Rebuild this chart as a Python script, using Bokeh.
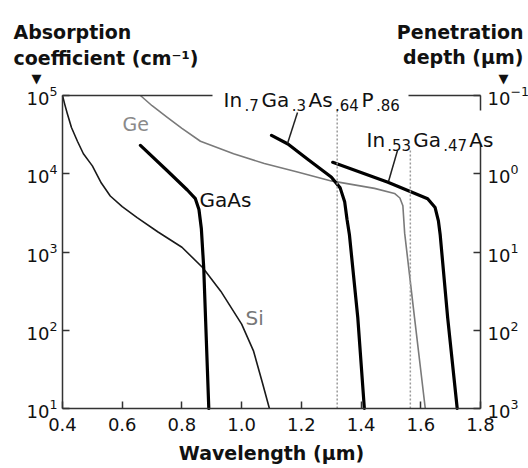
from bokeh.plotting import figure
from bokeh.models import (Range1d, LogScale, LogAxis, FixedTicker, PrintfTickFormatter,
                          Label, Arrow)
from bokeh.embed import file_html
from bokeh.resources import INLINE

# ---------------- data ----------------
si_wavelength = [0.40, 0.408, 0.416, 0.43, 0.45, 0.47, 0.50, 0.53, 0.56, 0.60, 0.65, 0.72, 0.80, 0.87, 0.93, 1.00, 1.04, 1.07, 1.093]
si_alpha = [1e5, 7.6e4, 5.9e4, 3.9e4, 2.6e4, 1.8e4, 1.26e4, 7.6e3, 5.2e3, 3.8e3, 2.75e3, 1.8e3, 1.15e3, 630, 316, 120, 54, 21, 10]

ge_wavelength = [0.661, 0.70, 0.752, 0.80, 0.862, 0.973, 1.076, 1.187, 1.30, 1.445, 1.512, 1.530, 1.540, 1.546, 1.579, 1.615]
ge_alpha = [1e5, 7.4e4, 5.2e4, 3.8e4, 2.6e4, 1.8e4, 1.35e4, 1.05e4, 8.1e3, 6.5e3, 5.6e3, 4.9e3, 3.9e3, 1.74e3, 145, 10]

gaas_wavelength = [0.661, 0.75, 0.818, 0.845, 0.857, 0.865, 0.873, 0.890]
gaas_alpha = [2.3e4, 1.1e4, 6.2e3, 4.8e3, 3.5e3, 2.0e3, 630, 10]

ingaasp_wavelength = [1.10, 1.155, 1.219, 1.30, 1.33, 1.345, 1.353, 1.361, 1.389, 1.411]
ingaasp_alpha = [3.1e4, 2.4e4, 1.55e4, 9.1e3, 6.6e3, 4.4e3, 2.6e3, 1.66e3, 145, 10]

ingaas_wavelength = [1.305, 1.49, 1.623, 1.648, 1.659, 1.665, 1.69, 1.722]
ingaas_alpha = [1.4e4, 7.8e3, 4.8e3, 3.7e3, 2.5e3, 1.66e3, 145, 10]

window_wavelength = [1.32, 1.565]
window_top_alpha = [6.5e4, 2.0e4]

x_ticks = [0.4, 0.6, 0.8, 1.0, 1.2, 1.4, 1.6, 1.8]
alpha_ticks = [1e1, 1e2, 1e3, 1e4, 1e5]
depth_ticks = [1e-1, 1e0, 1e1, 1e2, 1e3]

# ---------------- layout: the frame fills the canvas, axes sit at fixed places ----------------
W, H = 528, 468
FL, FR, FT, FB = 62, 480, 95, 408          # pixel box of the drawn axes
X0, X1 = 0.4, 1.8
LOG0, LOG1 = 1.0, 5.0
KX = (X1 - X0) / (FR - FL)                 # µm per pixel
DEC = (FB - FT) / (LOG1 - LOG0)            # pixels per decade


def dx(px):
    return X0 + (px - FL) * KX


def dy(py):
    return 10 ** (LOG0 + (FB - py) / DEC)


FONT = "DejaVu Sans"
INK = "#111111"
FRAME = "#333333"

p = figure(width=W, height=H, x_range=Range1d(dx(0), dx(W)), y_range=Range1d(dy(H), dy(0)),
           y_axis_type="log", output_backend="svg", toolbar_location=None,
           min_border=0, min_border_left=0, min_border_right=0, min_border_top=0,
           min_border_bottom=0)
p.outline_line_color = None
p.grid.visible = False
p.background_fill_color = "white"
p.border_fill_color = "white"

# penetration depth (µm) = 1e4 / alpha (cm^-1)
p.extra_y_ranges = {"depth": Range1d(start=1e4 / dy(H), end=1e4 / dy(0))}
p.extra_y_scales = {"depth": LogScale()}
raxis = LogAxis(y_range_name="depth", fixed_location=X1, bounds=(depth_ticks[0], depth_ticks[-1]))
p.add_layout(raxis, "right")

xax = p.xaxis[0]
yax = p.yaxis[0]
xax.fixed_location = alpha_ticks[0]
xax.bounds = (X0, X1)
yax.fixed_location = X0
yax.bounds = (alpha_ticks[0], alpha_ticks[-1])

for ax in (xax, yax, raxis):
    ax.major_tick_in = 7
    ax.major_tick_out = 0
    ax.minor_tick_line_color = None
    ax.major_tick_line_width = 1.5
    ax.major_tick_line_color = FRAME
    ax.axis_line_width = 1.5
    ax.axis_line_color = FRAME
    ax.major_label_text_font = FONT
    ax.major_label_text_font_size = "18px"
    ax.major_label_text_color = INK
raxis.axis_line_color = None
yax.ticker = FixedTicker(ticks=alpha_ticks)
raxis.ticker = FixedTicker(ticks=depth_ticks)
yax.major_label_standoff = 5
raxis.major_label_standoff = 7

xax.ticker = FixedTicker(ticks=x_ticks)
xax.formatter = PrintfTickFormatter(format="%.1f")
xax.major_label_standoff = 9
xax.axis_label = "Wavelength (µm)"
xax.axis_label_text_font = FONT
xax.axis_label_text_font_style = "bold"
xax.axis_label_text_font_size = "19px"
xax.axis_label_text_color = INK
xax.axis_label_standoff = 8

# ---------------- curves ----------------
p.line(si_wavelength, si_alpha, line_color="#1a1a1a", line_width=1.6, line_join="round")
p.line(ge_wavelength, ge_alpha, line_color="#7a7a7a", line_width=1.6, line_join="round")
for xs, ys in ((gaas_wavelength, gaas_alpha), (ingaasp_wavelength, ingaasp_alpha),
               (ingaas_wavelength, ingaas_alpha)):
    p.line(xs, ys, line_color="black", line_width=3.2, line_join="round", line_cap="round")

p.segment(x0=window_wavelength, y0=[alpha_ticks[0]] * 2, x1=window_wavelength, y1=window_top_alpha,
          line_color="#9a9a9a", line_width=1.5, line_dash="2 2")


# ---------------- frame lines with gaps (top and right) ----------------
def seg(x0, y0, x1, y1, w=1.5, c=FRAME):
    p.add_layout(Arrow(end=None, x_start=x0, y_start=y0, x_end=x1, y_end=y1,
                       line_color=c, line_width=w))


TOP = alpha_ticks[-1]
BOT = alpha_ticks[0]
seg(X0, TOP, dx(212), TOP)
seg(dx(408), TOP, X1, TOP)
seg(X1, TOP, X1, dy(110))
seg(X1, dy(143), X1, BOT)

# leader lines from labels to curves
seg(dx(297), dy(112), dx(287), dy(143), w=1.5, c="#222222")
seg(dx(397), dy(150), dx(388), dy(181), w=1.5, c="#222222")


# ---------------- texts ----------------
def lab(px, py, text, size, color=INK, style="normal", align="left"):
    p.add_layout(Label(x=dx(px), y=dy(py), text=text, text_font=FONT,
                       text_font_size=f"{size}px", text_font_style=style,
                       text_color=color, text_align=align, text_baseline="alphabetic"))


# approximate DejaVu Sans advance widths (em) used to lay out formula pieces
ADV = {"I": .295, "n": .634, "G": .775, "a": .613, "A": .684, "s": .521, "P": .603, ".": .318}


def formula(px, py, pieces, gap, main=20, sub=15):
    x = px
    for text, is_sub in pieces:
        size = sub if is_sub else main
        lab(x, py + (5 if is_sub else 0), text, size)
        x += sum(ADV.get(ch, .636) for ch in text) * size + gap


lab(13, 31, "Absorption", 19, style="bold")
lab(13, 57, "coefficient (cm⁻¹)", 19, style="bold")
lab(36, 78, "▼", 13, align="center")
lab(523, 31, "Penetration", 19, style="bold", align="right")
lab(523, 56, "depth (µm)", 19, style="bold", align="right")
lab(503, 78, "▼", 13, align="center")

lab(122, 123, "Ge", 19, color="#8a8a8a")
lab(199, 199, "GaAs", 20)
lab(245, 317, "Si", 20, color="#777777")

formula(223, 99, [("In", False), (".7", True), ("Ga", False), (".3", True),
                  ("As", False), (".64", True), ("P", False), (".86", True)], gap=2.5)
formula(366, 139, [("In", False), (".53", True), ("Ga", False), (".47", True),
                   ("As", False)], gap=2.2)

open("out.html", "w").write(file_html(p, INLINE))
